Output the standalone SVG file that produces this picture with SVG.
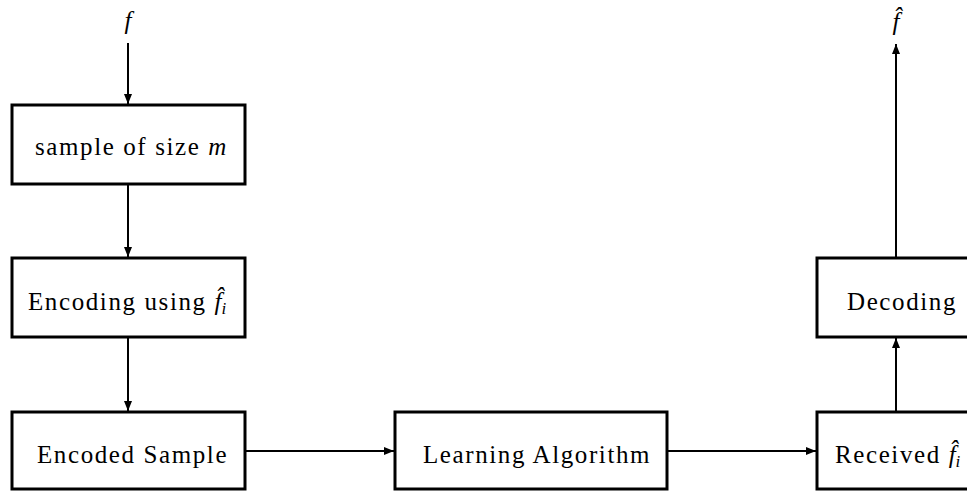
<svg xmlns="http://www.w3.org/2000/svg" width="967" height="491" viewBox="0 0 967 491">
  <style>
    .box { fill: #ffffff; stroke: #000000; stroke-width: 3; }
    .wire { stroke: #000000; stroke-width: 2; fill: none; marker-end: url(#head); }
    .lbl { font-family: 'Liberation Serif', 'DejaVu Serif', serif; font-size: 25px; letter-spacing: 1.6px; fill: #000000; }
    .it { font-style: italic; letter-spacing: 0; }
    .sub { font-style: italic; font-size: 17px; letter-spacing: 0; }
  </style>
  <defs>
    <marker id="head" viewBox="0 0 10 8" refX="10" refY="4" markerWidth="5" markerHeight="4" orient="auto" markerUnits="strokeWidth">
      <path d="M0,0 L10,4 L0,8 Z" fill="#000000"/>
    </marker>
  </defs>

  <!-- connectors -->
  <g id="connectors">
    <line class="wire" x1="128" y1="43" x2="128" y2="104"/>
    <line class="wire" x1="128" y1="184" x2="128" y2="257"/>
    <line class="wire" x1="128" y1="337" x2="128" y2="411"/>
    <line class="wire" x1="245" y1="451" x2="394" y2="451"/>
    <line class="wire" x1="667" y1="451" x2="816" y2="451"/>
    <line class="wire" x1="896" y1="412" x2="896" y2="338"/>
    <line class="wire" x1="896" y1="258" x2="896" y2="44"/>
  </g>

  <!-- input and output symbols -->
  <g id="input-f">
    <text class="lbl it" x="128" y="29" text-anchor="middle" font-family="Liberation Serif">f</text>
  </g>
  <g id="output-fhat">
    <text class="lbl it" x="896" y="30" text-anchor="middle">f̂</text>
  </g>

  <g id="sample">
    <rect class="box" x="12" y="105" width="233" height="79"/>
    <text class="lbl" x="35" y="155">sample of size <tspan class="it">m</tspan></text>
  </g>

  <g id="encoding">
    <rect class="box" x="12" y="258" width="233" height="79"/>
    <text class="lbl" x="28" y="310">Encoding using <tspan class="it">f̂</tspan><tspan class="sub" dy="4">i</tspan></text>
  </g>

  <g id="encoded-sample">
    <rect class="box" x="12" y="412" width="233" height="77"/>
    <text class="lbl" x="37" y="463">Encoded Sample</text>
  </g>

  <g id="learning">
    <rect class="box" x="395" y="412" width="272" height="77"/>
    <text class="lbl" x="423" y="463">Learning Algorithm</text>
  </g>

  <g id="decoding">
    <rect class="box" x="817" y="258" width="160" height="79"/>
    <text class="lbl" x="847" y="310">Decoding</text>
  </g>

  <g id="received">
    <rect class="box" x="817" y="412" width="160" height="77"/>
    <text class="lbl" x="835" y="463">Received <tspan class="it">f̂</tspan><tspan class="sub" dy="4">i</tspan></text>
  </g>
</svg>
